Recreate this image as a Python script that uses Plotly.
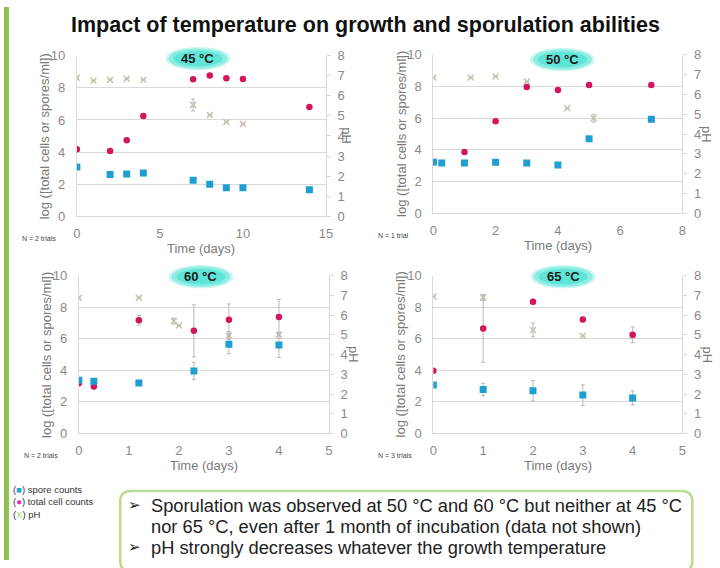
import plotly.graph_objects as go

W, H = 720, 568

# ---------------- data ----------------
# 45 °C
t45_ph = [0, 1, 2, 3, 4, 7, 8, 9, 10]
ph45 = [6.9, 6.75, 6.8, 6.85, 6.8, 5.55, 5.05, 4.7, 4.6]
ph45_err = [0, 0, 0, 0, 0, 0.3, 0, 0, 0]
t45 = [0, 2, 3, 4, 7, 8, 9, 10, 14]
tot45 = [4.18, 4.06, 4.73, 6.24, 8.53, 8.77, 8.6, 8.55, 6.81]
tot45_err = [0, 0, 0, 0.15, 0, 0, 0, 0, 0]
sp45 = [3.07, 2.6, 2.63, 2.69, 2.24, 2.0, 1.78, 1.78, 1.66]
sp45_err = [0, 0, 0, 0, 0, 0, 0, 0, 0]

# 50 °C
t50_ph = [0, 1.2, 2, 3, 4.3, 5.15, 7]
ph50 = [6.85, 6.85, 6.9, 6.65, 5.3, 4.8, 4.75]
ph50_err = [0, 0, 0, 0, 0, 0.2, 0]
t50_tot = [0, 1, 2, 3, 4, 5, 7]
tot50 = [3.22, 3.87, 5.8, 7.97, 7.77, 8.09, 8.09]
tot50_err = [0, 0, 0, 0, 0, 0, 0]
t50_sp = [0, 0.27, 1, 2, 3, 4, 5, 7]
sp50 = [3.24, 3.18, 3.18, 3.22, 3.18, 3.05, 4.71, 5.94]
sp50_err = [0, 0, 0, 0, 0, 0, 0, 0]

# 60 °C
t60_ph = [0, 1.2, 1.9, 2.0, 3, 4]
ph60 = [6.88, 6.88, 5.7, 5.47, 4.96, 5.0]
ph60_err = [0, 0, 0.15, 0, 0.2, 0]
t60 = [0, 0.3, 1.2, 2.3, 3, 4]
tot60 = [3.18, 2.98, 7.17, 6.51, 7.21, 7.39]
tot60_err = [0, 0.15, 0.3, 1.65, 1.0, 1.1]
sp60 = [3.37, 3.31, 3.2, 3.96, 5.65, 5.61]
sp60_err = [0, 0, 0, 0.55, 0.6, 0.8]

# 65 °C
t65 = [0, 1, 2, 3, 4]
ph65 = [6.95, 6.9, 5.25, 4.95, 4.95]
ph65_err = [0, 0.15, 0.35, 0.05, 0]
tot65 = [3.98, 6.66, 8.35, 7.22, 6.25]
tot65_err = [0, 2.15, 0, 0, 0.5]
sp65 = [3.07, 2.78, 2.7, 2.43, 2.25]
sp65_err = [0, 0.4, 0.65, 0.65, 0.45]

panel_titles = ["45 °C", "50 °C", "60 °C", "65 °C"]
trial_labels = ["N = 2 trials", "N = 1 trial", "N = 2 trials", "N = 3 trials"]
x_ranges = [[0, 15], [0, 8], [0, 5], [0, 5]]
x_dticks = [5, 2, 1, 1]

panels = [
    (t45_ph, ph45, ph45_err, t45, tot45, tot45_err, t45, sp45, sp45_err),
    (t50_ph, ph50, ph50_err, t50_tot, tot50, tot50_err, t50_sp, sp50, sp50_err),
    (t60_ph, ph60, ph60_err, t60, tot60, tot60_err, t60, sp60, sp60_err),
    (t65, ph65, ph65_err, t65, tot65, tot65_err, t65, sp65, sp65_err),
]

# ---------------- style ----------------
C_SP = "#1f9fd0"
C_TOT = "#d2155c"
C_PH = "#c8c1ae"
C_ERR = "#b8b8b8"
C_AX = "#d9d9d9"
C_TICK = "#8a8a8a"
FONT = "Liberation Sans, Arial, sans-serif"

# pixel boxes of plot areas: (x0, x1, ytop, ybottom)
boxes = [(74, 327, 50, 215), (436, 689, 49, 212), (76, 330, 276, 438), (436, 689, 276, 438)]
ph_title_off = [21, 25, 25, 25]


def px(x):
    return x / W


def py(y):
    return 1 - y / H


fig = go.Figure()
layout = dict(
    width=W, height=H, margin=dict(l=0, r=0, t=0, b=0),
    paper_bgcolor="white", plot_bgcolor="rgba(0,0,0,0)",
    showlegend=False, font=dict(family=FONT, color=C_TICK),
)
annotations = []
shapes = []

for i, (box, data) in enumerate(zip(boxes, panels)):
    n = i + 1
    x0, x1, yt, yb = box
    xa = f"xaxis{n}" if n > 1 else "xaxis"
    ph_ax_n = 2 * n - 1
    lf_ax_n = 2 * n
    ph_ax = f"yaxis{ph_ax_n}" if ph_ax_n > 1 else "yaxis"
    lf_ax = f"yaxis{lf_ax_n}"
    xref = f"x{n}" if n > 1 else "x"
    ph_ref = f"y{ph_ax_n}" if ph_ax_n > 1 else "y"
    lf_ref = f"y{lf_ax_n}"

    layout[xa] = dict(
        domain=[px(x0), px(x1)], range=x_ranges[i], dtick=x_dticks[i], tick0=0,
        anchor=ph_ref, showgrid=False, zeroline=False, showline=True,
        linecolor=C_AX, linewidth=1, ticks="", ticklabelstandoff=5,
        tickfont=dict(size=13, color=C_TICK, family=FONT), fixedrange=True,
    )
    layout[ph_ax] = dict(
        domain=[py(yb), py(yt)], range=[0, 8], dtick=1, anchor=xref, side="right",
        showgrid=False, zeroline=False, showline=True, linecolor=C_AX, linewidth=1,
        ticks="outside", ticklen=4, tickcolor=C_AX, ticklabelstandoff=4,
        tickfont=dict(size=13, color=C_TICK, family=FONT), fixedrange=True,
    )
    layout[lf_ax] = dict(
        range=[0, 10], dtick=2, anchor=xref, side="left", overlaying=ph_ref,
        showgrid=True, gridcolor=C_AX, gridwidth=1, zeroline=False, showline=True,
        linecolor=C_AX, linewidth=1, ticks="", ticklabelstandoff=8,
        tickfont=dict(size=13, color=C_TICK, family=FONT), fixedrange=True,
    )

    t_ph, ph, ph_err, t_tot, tot, tot_err, t_sp, sp, sp_err = data
    fig.add_trace(go.Scatter(
        x=t_ph, y=ph, mode="markers", xaxis=xref, yaxis=ph_ref,
        marker=dict(symbol="x-thin", size=6, line=dict(width=1.5, color=C_PH), color=C_PH),
        error_y=dict(type="data", array=ph_err, color=C_ERR, thickness=1, width=2),
    ))
    fig.add_trace(go.Scatter(
        x=t_tot, y=tot, mode="markers", xaxis=xref, yaxis=lf_ref,
        marker=dict(symbol="circle", size=6.5, color=C_TOT),
        error_y=dict(type="data", array=tot_err, color=C_ERR, thickness=1, width=2),
    ))
    fig.add_trace(go.Scatter(
        x=t_sp, y=sp, mode="markers", xaxis=xref, yaxis=lf_ref,
        marker=dict(symbol="square", size=7, color=C_SP),
        error_y=dict(type="data", array=sp_err, color=C_ERR, thickness=1, width=2),
    ))

    cx = (x0 + x1) / 2
    # y-axis titles
    annotations.append(dict(
        x=px(x0 - 33), y=py((yt + yb) / 2), xref="paper", yref="paper",
        text="log ([total cells or spores/ml])", textangle=-90, showarrow=False,
        font=dict(size=13, color="#7a7a7a", family=FONT), xanchor="center", yanchor="middle",
    ))
    annotations.append(dict(
        x=px(x1 + ph_title_off[i]), y=py((yt + yb) / 2), xref="paper", yref="paper",
        text="pH", textangle=90, showarrow=False,
        font=dict(size=13, color="#7a7a7a", family=FONT), xanchor="center", yanchor="middle",
    ))
    # x-axis title
    annotations.append(dict(
        x=px(cx), y=py(yb + 33), xref="paper", yref="paper", text="Time (days)",
        showarrow=False, font=dict(size=13, color="#7a7a7a", family=FONT),
        xanchor="center", yanchor="middle",
    ))
    # N trials
    annotations.append(dict(
        x=px(x0 - 58), y=py(yb + 23), xref="paper", yref="paper", text=trial_labels[i],
        showarrow=False, font=dict(size=7, color="#444444", family=FONT),
        xanchor="left", yanchor="middle",
    ))
    # bubble label
    bx = [197, 567, 200, 568][i]
    by = [53, 54, 277, 277][i]
    for rw, rh, col in [(33, 12, "#c9f6f1"), (30, 10.5, "#8eede3"), (25, 8, "#5fe5d8")]:
        shapes.append(dict(
            type="circle", xref="paper", yref="paper",
            x0=px(bx - rw), x1=px(bx + rw), y0=py(by + rh), y1=py(by - rh),
            fillcolor=col, line=dict(width=0), layer="above",
        ))
    annotations.append(dict(
        x=px(bx), y=py(by), xref="paper", yref="paper", text=f"<b>{panel_titles[i]}</b>",
        showarrow=False, font=dict(size=13, color="#1a1a1a", family=FONT),
        xanchor="center", yanchor="middle",
    ))

# title
annotations.append(dict(
    x=px(367), y=py(18), xref="paper", yref="paper",
    text="<b>Impact of temperature on growth and sporulation abilities</b>",
    showarrow=False, font=dict(size=21.5, color="#111111", family=FONT),
    xanchor="center", yanchor="middle",
))

# left green bar
shapes.append(dict(type="rect", xref="paper", yref="paper", x0=0, x1=px(5), y0=0, y1=1,
                   fillcolor="#8cc152", line=dict(width=0), layer="below"))

# rounded text box
bx0, bx1, by0, by1, r = 118, 699, 497, 580, 11
rx, ry = r / W, r / H
X0, X1, Y0, Y1 = px(bx0), px(bx1), py(by0), py(by1)
path = (f"M {X0+rx},{Y0} L {X1-rx},{Y0} Q {X1},{Y0} {X1},{Y0-ry} "
        f"L {X1},{Y1+ry} Q {X1},{Y1} {X1-rx},{Y1} L {X0+rx},{Y1} Q {X0},{Y1} {X0},{Y1+ry} "
        f"L {X0},{Y0-ry} Q {X0},{Y0} {X0+rx},{Y0} Z")
shapes.append(dict(type="path", xref="paper", yref="paper", path=path,
                   line=dict(color="#b9dc92", width=2.5), fillcolor="white", layer="below"))

box_lines = [
    (512, True, "Sporulation was observed at 50 °C and 60 °C but neither at 45 °C"),
    (534, False, "nor 65 °C, even after 1 month of incubation (data not shown)"),
    (555, True, "pH strongly decreases whatever the growth temperature"),
]
for yy, bullet, txt in box_lines:
    if bullet:
        annotations.append(dict(
            x=px(124), y=py(yy), xref="paper", yref="paper", text="➢", showarrow=False,
            font=dict(size=15, color="#222222", family="DejaVu Sans"), xanchor="left", yanchor="middle",
        ))
    annotations.append(dict(
        x=px(147), y=py(yy), xref="paper", yref="paper", text=txt, showarrow=False,
        font=dict(size=18.3, color="#222222", family=FONT), xanchor="left", yanchor="middle",
    ))

# small legend (one multi-line text)
legend_syms = ["<span style='color:#2aa2e0'>■</span>",
               "<span style='color:#e81cc4'>●</span>",
               "<span style='color:#a6d67a'>X</span>"]
legend_labels = ["spore counts", "total cell counts", "pH"]
legend_text = "<br>".join(f"({s}) {lab}" for s, lab in zip(legend_syms, legend_labels))
annotations.append(dict(
    x=px(7), y=py(488), xref="paper", yref="paper", text=legend_text,
    showarrow=False, align="left", font=dict(size=9.5, color="#333333", family=FONT),
    xanchor="left", yanchor="top",
))

layout["annotations"] = annotations
layout["shapes"] = shapes
fig.update_layout(**layout)
fig.write_html(
    "out.html",
    config={"displayModeBar": False, "staticPlot": True},
    post_script="document.body.style.margin='0';document.body.style.overflow='hidden';",
)
